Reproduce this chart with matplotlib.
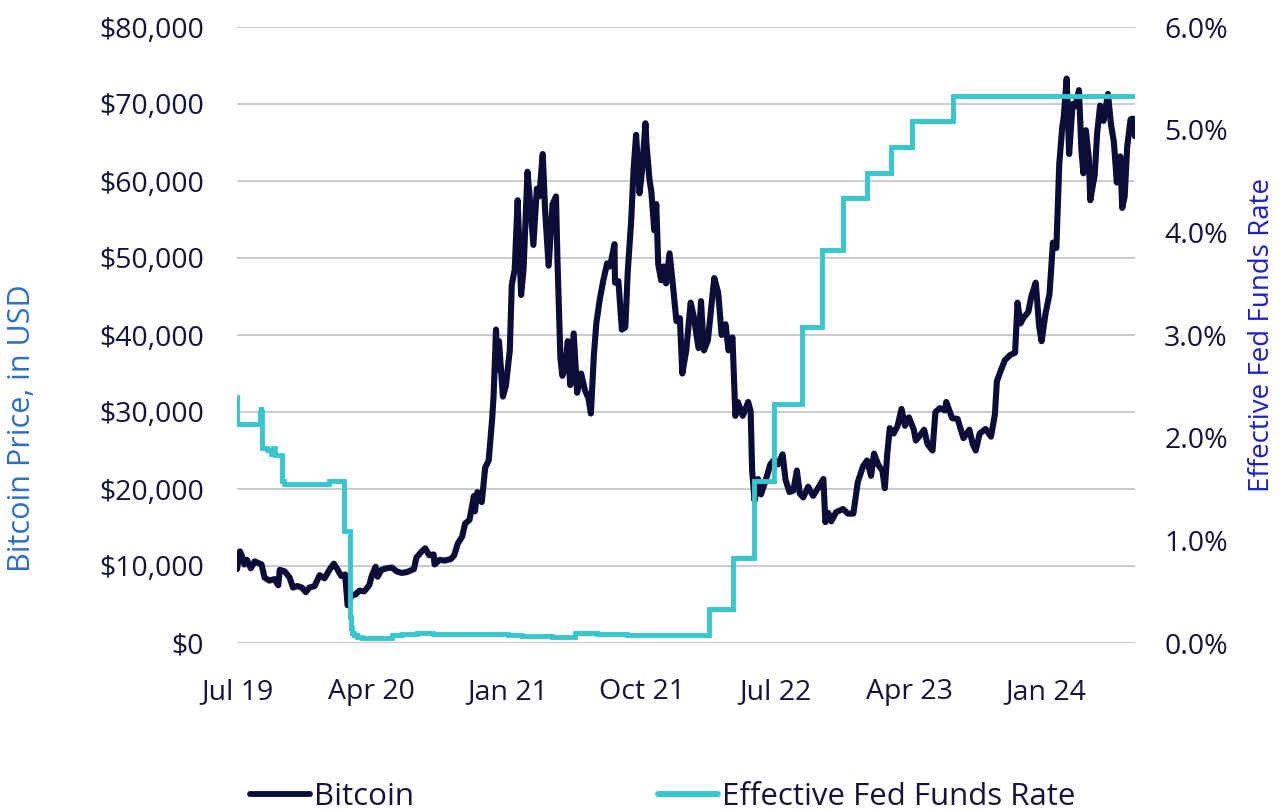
import matplotlib
matplotlib.use('Agg')
import matplotlib.pyplot as plt
import matplotlib.ticker as mticker
from matplotlib.lines import Line2D
import pandas as pd

# ---------------- data ----------------
btc_dates = [
    '2019-07-31', '2019-08-06', '2019-08-10', '2019-08-15', '2019-08-20', '2019-08-28',
    '2019-09-05', '2019-09-12', '2019-09-19', '2019-09-25', '2019-10-05', '2019-10-15',
    '2019-10-23', '2019-10-26', '2019-11-05', '2019-11-15', '2019-11-22', '2019-12-01',
    '2019-12-10', '2019-12-18', '2019-12-25', '2020-01-05', '2020-01-15', '2020-01-25',
    '2020-02-05', '2020-02-13', '2020-02-20', '2020-02-28', '2020-03-07', '2020-03-12',
    '2020-03-20', '2020-03-28', '2020-04-05', '2020-04-15', '2020-04-25', '2020-04-30',
    '2020-05-08', '2020-05-12', '2020-05-20', '2020-05-30', '2020-06-10', '2020-06-20',
    '2020-06-30', '2020-07-10', '2020-07-25', '2020-07-30', '2020-08-10', '2020-08-17',
    '2020-08-25', '2020-09-03', '2020-09-05', '2020-09-15', '2020-09-25', '2020-10-08',
    '2020-10-15', '2020-10-22', '2020-10-31', '2020-11-06', '2020-11-15', '2020-11-24',
    '2020-11-26', '2020-12-01', '2020-12-10', '2020-12-17', '2020-12-24', '2020-12-31',
    '2021-01-03', '2021-01-08', '2021-01-11', '2021-01-14', '2021-01-22', '2021-01-28',
    '2021-02-05', '2021-02-09', '2021-02-15', '2021-02-21', '2021-02-28', '2021-03-05',
    '2021-03-13', '2021-03-18', '2021-03-25', '2021-04-01', '2021-04-06', '2021-04-13',
    '2021-04-18', '2021-04-25', '2021-05-03', '2021-05-10', '2021-05-13', '2021-05-19',
    '2021-05-23', '2021-05-28', '2021-06-03', '2021-06-08', '2021-06-15', '2021-06-22',
    '2021-06-30', '2021-07-08', '2021-07-15', '2021-07-20', '2021-07-26', '2021-07-31',
    '2021-08-07', '2021-08-14', '2021-08-22', '2021-08-28', '2021-09-06', '2021-09-07',
    '2021-09-14', '2021-09-21', '2021-09-28', '2021-10-03', '2021-10-10', '2021-10-15',
    '2021-10-20', '2021-10-27', '2021-11-01', '2021-11-08', '2021-11-10', '2021-11-16',
    '2021-11-20', '2021-11-26', '2021-11-30', '2021-12-04', '2021-12-10', '2021-12-15',
    '2021-12-20', '2021-12-27', '2022-01-03', '2022-01-10', '2022-01-17', '2022-01-22',
    '2022-01-30', '2022-02-08', '2022-02-14', '2022-02-24', '2022-03-01', '2022-03-07',
    '2022-03-15', '2022-03-28', '2022-04-05', '2022-04-12', '2022-04-20', '2022-04-26',
    '2022-05-04', '2022-05-10', '2022-05-15', '2022-05-25', '2022-06-05', '2022-06-10',
    '2022-06-13', '2022-06-18', '2022-06-25', '2022-07-01', '2022-07-10', '2022-07-20',
    '2022-07-28', '2022-08-05', '2022-08-14', '2022-08-20', '2022-08-28', '2022-09-05',
    '2022-09-12', '2022-09-18', '2022-09-25', '2022-10-05', '2022-10-15', '2022-10-25',
    '2022-11-05', '2022-11-09', '2022-11-15', '2022-11-21', '2022-12-01', '2022-12-15',
    '2022-12-25', '2023-01-05', '2023-01-14', '2023-01-25', '2023-02-02', '2023-02-10',
    '2023-02-16', '2023-02-25', '2023-03-05', '2023-03-10', '2023-03-15', '2023-03-20',
    '2023-03-28', '2023-04-05', '2023-04-13', '2023-04-20', '2023-04-28', '2023-05-08',
    '2023-05-12', '2023-05-20', '2023-05-29', '2023-06-05', '2023-06-15', '2023-06-21',
    '2023-06-30', '2023-07-10', '2023-07-13', '2023-07-25', '2023-08-05', '2023-08-17',
    '2023-08-29', '2023-09-05', '2023-09-11', '2023-09-19', '2023-10-01', '2023-10-12',
    '2023-10-20', '2023-10-24', '2023-11-01', '2023-11-09', '2023-11-20', '2023-11-30',
    '2023-12-05', '2023-12-11', '2023-12-18', '2023-12-27', '2024-01-02', '2024-01-11',
    '2024-01-18', '2024-01-23', '2024-01-31', '2024-02-08', '2024-02-15', '2024-02-22',
    '2024-02-28', '2024-03-05', '2024-03-08', '2024-03-14', '2024-03-19', '2024-03-26',
    '2024-04-01', '2024-04-08', '2024-04-13', '2024-04-17', '2024-04-22', '2024-04-28',
    '2024-05-01', '2024-05-10', '2024-05-15', '2024-05-21', '2024-05-28', '2024-06-06',
    '2024-06-12', '2024-06-18', '2024-06-24', '2024-07-01', '2024-07-05', '2024-07-10',
    '2024-07-15', '2024-07-22', '2024-07-27', '2024-07-31',
]
btc_values = [
    9600, 11900, 11300, 10200, 10800, 9700,
    10600, 10400, 10200, 8500, 8100, 8300,
    7500, 9500, 9300, 8500, 7200, 7400,
    7200, 6600, 7200, 7400, 8800, 8400,
    9600, 10300, 9600, 8700, 8900, 4900,
    6200, 6300, 6800, 6700, 7500, 8700,
    9900, 8600, 9500, 9700, 9800, 9300,
    9100, 9200, 9600, 11100, 11900, 12300,
    11400, 11500, 10200, 10800, 10700, 10900,
    11400, 12900, 13800, 15500, 16000, 19100,
    17100, 19600, 18300, 22800, 23700, 29000,
    32000, 40700, 35500, 39200, 32000, 33400,
    38000, 46500, 48500, 57500, 45200, 48500,
    61200, 57500, 51700, 59000, 58000, 63500,
    56000, 49000, 57000, 58000, 49700, 37000,
    34700, 35600, 39200, 33500, 40200, 32500,
    35000, 32800, 31800, 29800, 37300, 41500,
    44600, 47000, 49300, 48900, 51800, 46800,
    47000, 40700, 41000, 48200, 54900, 61600,
    66000, 58400, 61300, 67500, 64900, 60300,
    58600, 53600, 57000, 49200, 47100, 48900,
    46700, 50600, 46400, 41800, 42200, 35000,
    38000, 44200, 42500, 38300, 44400, 38000,
    39300, 47400, 45500, 40000, 41400, 38000,
    39700, 29500, 31300, 29500, 31300, 30100,
    22500, 18500, 21300, 19300, 21000, 23200,
    23800, 23200, 24500, 21200, 19600, 19800,
    22400, 19400, 18900, 20300, 19100, 20100,
    21300, 15700, 16900, 15800, 17000, 17400,
    16800, 16800, 20900, 23000, 23700, 21700,
    24600, 23100, 22400, 20100, 24600, 27900,
    27200, 28200, 30400, 28200, 29300, 27700,
    26300, 26900, 27700, 25800, 25000, 30000,
    30500, 30200, 31300, 29200, 29100, 26600,
    27700, 25800, 25000, 27200, 27800, 26800,
    29700, 34000, 35400, 36700, 37400, 37700,
    44200, 41500, 42300, 43000, 45000, 46800,
    41100, 39200, 42800, 45300, 52000, 51300,
    62300, 67000, 68300, 73300, 63500, 70000,
    69700, 71800, 64000, 61000, 66600, 63000,
    57500, 60800, 66200, 69800, 67800, 71300,
    67400, 65100, 59800, 63200, 56500, 58000,
    64400, 68000, 68100, 65800,
]

effr_dates = [
    '2019-07-31', '2019-08-01', '2019-09-16', '2019-09-17', '2019-09-18', '2019-09-19',
    '2019-10-01', '2019-10-08', '2019-10-12', '2019-10-17', '2019-10-31', '2019-11-04',
    '2020-02-03', '2020-02-20', '2020-03-04', '2020-03-16', '2020-03-18', '2020-03-20',
    '2020-03-25', '2020-04-01', '2020-04-10', '2020-06-11', '2020-07-01', '2020-08-01',
    '2020-09-01', '2021-02-01', '2021-03-01', '2021-05-01', '2021-06-17', '2021-08-01',
    '2021-10-01', '2022-03-17', '2022-05-05', '2022-06-16', '2022-07-28', '2022-09-22',
    '2022-11-03', '2022-12-15', '2023-02-02', '2023-03-23', '2023-05-04', '2023-07-27',
    '2024-07-31',
]
effr_values = [
    2.40, 2.13, 2.25, 2.30, 2.25, 1.90,
    1.88, 1.84, 1.90, 1.83, 1.58, 1.55,
    1.58, 1.58, 1.09, 0.25, 0.15, 0.10,
    0.08, 0.06, 0.05, 0.08, 0.09, 0.10,
    0.09, 0.08, 0.07, 0.06, 0.10, 0.09,
    0.08, 0.33, 0.83, 1.58, 2.33, 3.08,
    3.83, 4.33, 4.58, 4.83, 5.08, 5.33,
    5.33,
]

tick_dates = ['2019-07-31', '2020-04-30', '2021-01-31', '2021-10-31',
              '2022-07-31', '2023-04-30', '2024-01-31']
tick_labels = ['Jul 19', 'Apr 20', 'Jan 21', 'Oct 21', 'Jul 22', 'Apr 23', 'Jan 24']
usd_ticks = [0, 10000, 20000, 30000, 40000, 50000, 60000, 70000, 80000]
rate_ticks = [0, 1, 2, 3, 4, 5, 6]

series_names = ['Bitcoin', 'Effective Fed Funds Rate']

# ---------------- style ----------------
NAVY = '#0c0c38'
TEAL = '#35c7cd'
TXT = '#15153a'
GRID = '#c3c8d0'

plt.rcParams['font.family'] = ['Open Sans', 'DejaVu Sans']

W, H = 1281, 810
fig = plt.figure(figsize=(W / 100, H / 100), dpi=100)
L, R, T, B = 237, 1135, 27, 643
ax = fig.add_axes([L / W, 1 - B / H, (R - L) / W, (B - T) / H])
ax2 = ax.twinx()

bx = pd.to_datetime(btc_dates)
ex = pd.to_datetime(effr_dates)

ax.plot(bx, btc_values, color=NAVY, lw=4.4, solid_joinstyle='round',
        solid_capstyle='round', zorder=3)
ax2.plot(ex, effr_values, color=TEAL, lw=3.5, drawstyle='steps-post',
         solid_joinstyle='miter', zorder=3)

ax.set_xlim(pd.Timestamp('2019-07-31'), pd.Timestamp('2024-07-31'))
ax.set_ylim(0, 80000)
ax2.set_ylim(0, 6)

ax.set_yticks(usd_ticks)
ax.yaxis.set_major_formatter(mticker.FuncFormatter(lambda v, p: '${:,.0f}'.format(v)))
ax2.set_yticks(rate_ticks)
ax2.yaxis.set_major_formatter(mticker.FuncFormatter(lambda v, p: '{:.1f}%'.format(v)))
ax.set_xticks(pd.to_datetime(tick_dates))
ax.set_xticklabels(tick_labels)

ax.grid(axis='y', color=GRID, lw=1.3)
ax.grid(axis='x', visible=False)
ax.set_axisbelow(True)

for a in (ax, ax2):
    for s in a.spines.values():
        s.set_visible(False)

ax.tick_params(axis='y', length=0, pad=24, labelsize=20.5, labelcolor=TXT)
ax2.tick_params(axis='y', length=0, pad=21, labelsize=20.5, labelcolor=TXT)
ax.tick_params(axis='x', length=0, pad=25, labelsize=20.5, labelcolor=TXT)

fig.text(22 / W, 1 - 428 / H, 'Bitcoin Price, in USD', rotation=90,
         ha='center', va='center', fontsize=22, color='#2f6fc7')
fig.text(1262 / W, 1 - 335 / H, 'Effective Fed Funds Rate', rotation=90,
         ha='center', va='center', fontsize=20, color='#1f1fd1')

handles = [Line2D([], [], color=NAVY, lw=4.2, solid_capstyle='round'),
           Line2D([], [], color=TEAL, lw=4.2, solid_capstyle='round')]
fig.legend(handles, series_names, loc='center', bbox_to_anchor=(663 / W, 1 - 797 / H),
           ncol=2, frameon=False, fontsize=22.5, handlelength=1.9, handletextpad=0.15,
           columnspacing=7.8, borderpad=0, labelcolor=TXT)

fig.savefig('out.png', dpi=100)
